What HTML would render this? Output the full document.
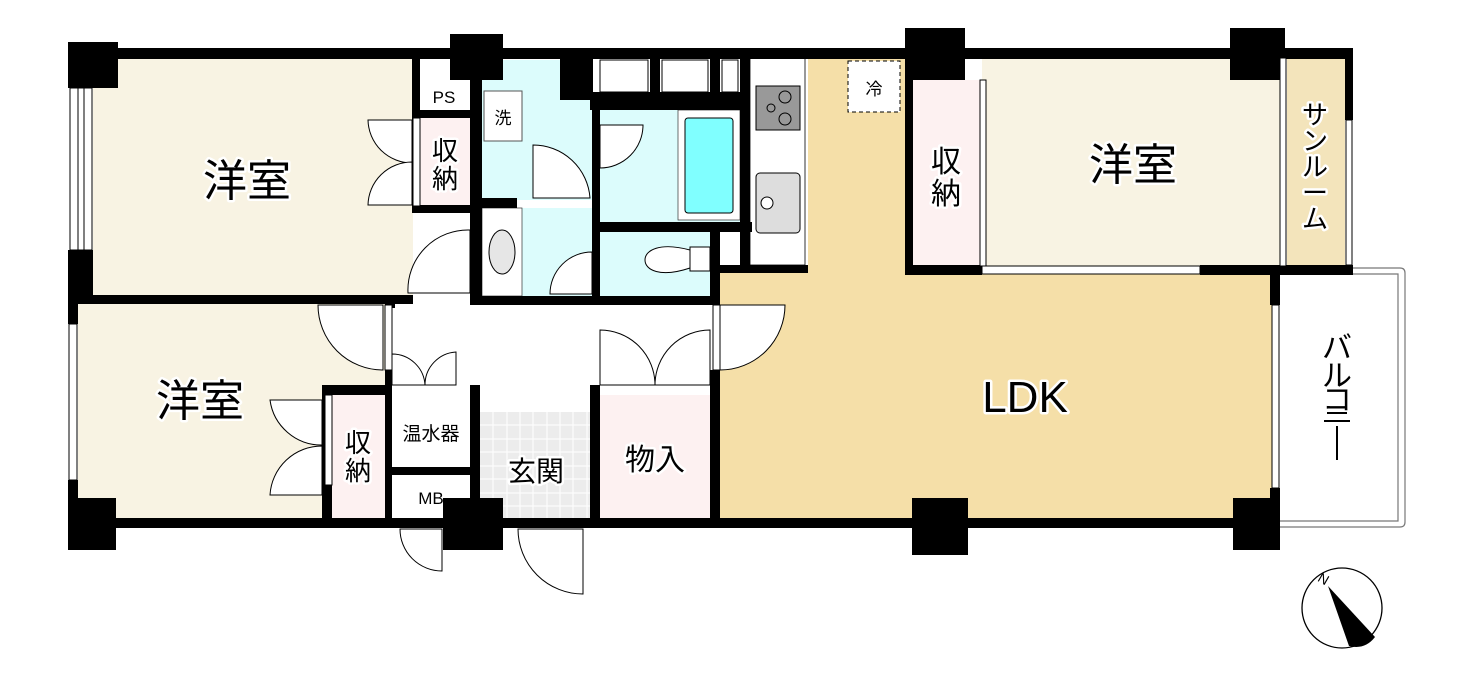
<!DOCTYPE html>
<html><head><meta charset="utf-8"><style>
html,body{margin:0;padding:0;background:#fff;}
svg{display:block;}
text{font-family:"Liberation Sans","Noto Sans CJK JP",sans-serif;fill:#000;}
</style></head><body>
<svg width="1469" height="694" viewBox="0 0 1469 694" xmlns="http://www.w3.org/2000/svg">
<rect x="93" y="58" width="320" height="238" fill="#f8f3e3"/>
<rect x="78" y="304" width="310" height="215" fill="#f8f3e3"/>
<rect x="482" y="60" width="110" height="140" fill="#dcfcfc"/>
<rect x="522" y="208" width="70" height="88" fill="#dcfcfc"/>
<rect x="482" y="208" width="40" height="88" fill="#fff" stroke="#333" stroke-width="0.7"/>
<ellipse cx="502" cy="252" rx="13" ry="22" fill="#e6e6e6" stroke="#000"/>
<rect x="600" y="110" width="145" height="112" fill="#dcfcfc"/>
<rect x="678" y="110" width="62" height="110" fill="#fff" stroke="#333" stroke-width="0.7"/>
<rect x="685" y="118" width="48" height="95" rx="3" fill="#80ffff" stroke="#000"/>
<rect x="600" y="232" width="112" height="64" fill="#dcfcfc"/>
<path d="M690 247 h20 v24 h-20 Z" fill="#fff" stroke="#000"/>
<path d="M690 250 C660 242,645 250,645 260 C645 270,660 278,690 268 Z" fill="#fff" stroke="#000"/>
<rect x="420" y="118" width="50" height="88" fill="#fdf1f1"/>
<rect x="332" y="395" width="53" height="124" fill="#fdf1f1"/>
<rect x="600" y="395" width="110" height="124" fill="#fdf1f1"/>
<rect x="912" y="80" width="68" height="186" fill="#fdf1f1"/>
<rect x="982" y="58" width="300" height="208" fill="#f8f3e3"/>
<rect x="1287" y="58" width="58" height="208" fill="#f3e4bb"/>
<rect x="808" y="58" width="100" height="215" fill="#f5dfa8"/>
<rect x="720" y="270" width="552" height="249" fill="#f5dfa8"/>
<rect x="480" y="412" width="112" height="107" fill="#ececec"/>
<g stroke="#fff" stroke-width="1">
<path d="M493 412v107M507 412v107M520 412v107M533 412v107M547 412v107M560 412v107M573 412v107M587 412v107"/>
<path d="M480 425h112M480 439h112M480 452h112M480 466h112M480 479h112M480 493h112M480 506h112"/>
</g>
<rect x="750" y="58" width="55" height="207" fill="#fff" stroke="#000" stroke-width="0.8"/>
<rect x="756" y="86" width="44" height="44" fill="#999" stroke="#000"/>
<circle cx="785" cy="97" r="6" fill="none" stroke="#000"/><circle cx="785" cy="119" r="6" fill="none" stroke="#000"/><circle cx="771" cy="108" r="4" fill="none" stroke="#000"/>
<rect x="756" y="173" width="44" height="60" rx="4" fill="#ddd" stroke="#000"/>
<circle cx="767" cy="203" r="6" fill="#fff" stroke="#000"/>
<rect x="848" y="61" width="52" height="51" fill="#fff" stroke="#000" stroke-dasharray="4,3"/>
<rect x="420" y="78" width="50" height="32" fill="#fff"/>
<rect x="484" y="91" width="38" height="50" fill="#fff" stroke="#555"/>
<rect x="392" y="395" width="78" height="72" fill="#fff"/>
<rect x="392" y="475" width="78" height="44" fill="#fff"/>
<path d="M1280 268 H1400 Q1405 268 1405 273 V522 Q1405 527 1400 527 H1280" fill="#fff" stroke="#777" stroke-width="1.2"/>
<path d="M1280 274 H1398 V521 H1280" fill="none" stroke="#777" stroke-width="1.2"/>
<g fill="#000">
<rect x="68" y="48" width="1285" height="11"/>
<rect x="68" y="42" width="50" height="46"/>
<rect x="68" y="250" width="25" height="54"/>
<rect x="68" y="295" width="345" height="9"/>
<rect x="68" y="304" width="10" height="20"/>
<rect x="68" y="480" width="10" height="40"/>
<rect x="68" y="498" width="48" height="52"/>
<rect x="68" y="518" width="1212" height="10"/>
<rect x="450" y="34" width="53" height="46"/>
<rect x="412" y="58" width="8" height="63"/>
<rect x="412" y="205" width="60" height="8"/>
<rect x="412" y="110" width="60" height="8"/>
<rect x="470" y="58" width="12" height="240"/>
<rect x="470" y="296" width="250" height="9"/>
<rect x="472" y="198" width="45" height="10"/>
<rect x="560" y="58" width="33" height="42"/>
<rect x="590" y="92" width="160" height="18"/>
<rect x="592" y="100" width="8" height="198"/>
<rect x="592" y="222" width="160" height="10"/>
<rect x="710" y="228" width="10" height="70"/>
<rect x="740" y="58" width="10" height="215"/>
<rect x="650" y="58" width="10" height="40"/><rect x="710" y="58" width="10" height="40"/>
<rect x="720" y="265" width="88" height="8"/>
<rect x="905" y="28" width="60" height="52"/>
<rect x="905" y="58" width="8" height="217"/>
<rect x="905" y="265" width="77" height="10"/>
<rect x="1200" y="265" width="153" height="10"/>
<rect x="1230" y="28" width="55" height="52"/>
<rect x="1345" y="50" width="8" height="70"/>
<rect x="1270" y="275" width="10" height="30"/>
<rect x="1270" y="488" width="10" height="40"/>
<rect x="1233" y="498" width="47" height="52"/>
<rect x="912" y="498" width="56" height="57"/>
<rect x="443" y="498" width="60" height="52"/>
<rect x="322" y="385" width="68" height="10"/>
<rect x="322" y="385" width="10" height="134"/>
<rect x="385" y="370" width="7" height="149"/>
<rect x="470" y="385" width="10" height="134"/>
<rect x="385" y="467" width="90" height="8"/>
<rect x="590" y="385" width="10" height="134"/>
<rect x="710" y="370" width="10" height="149"/>
<rect x="710" y="270" width="10" height="35"/>
<rect x="385" y="298" width="10" height="10"/>
</g>
<g fill="#fff" stroke="#000" stroke-width="1">
<rect x="70" y="88" width="22" height="162"/>
<rect x="69" y="324" width="8" height="156"/>
<rect x="982" y="266" width="218" height="8"/>
<rect x="1346" y="120" width="6" height="145"/>
<rect x="1272" y="305" width="7" height="183"/>
<rect x="1280" y="58" width="6" height="208"/>
<rect x="980" y="80" width="6" height="186"/>
<rect x="600" y="60" width="48" height="32"/><rect x="662" y="60" width="46" height="32"/><rect x="722" y="60" width="16" height="32"/>
<rect x="413" y="118" width="7" height="88"/>
<rect x="325" y="395" width="7" height="90"/>
<rect x="385" y="305" width="7" height="65"/>
<rect x="713" y="305" width="7" height="65"/>
</g>
<path d="M78 88V250M84 88V250" stroke="#000" stroke-width="1"/>
<g fill="#fff" stroke="#000" stroke-width="1">
<path d="M412 120 H368 A44 44 0 0 0 412 163 Z"/>
<path d="M412 205 H368 A44 44 0 0 1 412 162 Z"/>
<path d="M470 230 A60 60 0 0 0 408 293 H470 Z"/>
<path d="M533 145 V198 H590 A57 57 0 0 0 533 145 Z"/>
<path d="M600 125 V168 A43 43 0 0 0 643 125 Z"/>
<path d="M592 252 A42 42 0 0 0 550 294 H592 Z"/>
<path d="M318 305 A65 65 0 0 0 383 370 V305 Z"/>
<path d="M322 400 H270 A52 52 0 0 0 322 445 Z"/>
<path d="M322 495 H270 A52 52 0 0 1 322 446 Z"/>
<path d="M392 354 V385 H425 A33 33 0 0 0 392 354 Z"/>
<path d="M456 352 V385 H425 A33 33 0 0 1 456 352 Z"/>
<path d="M600 330 V385 H655 A55 55 0 0 0 600 330 Z"/>
<path d="M710 330 V385 H655 A55 55 0 0 1 710 330 Z"/>
<path d="M720 305 V370 A65 65 0 0 0 785 305 Z"/>
<path d="M400 529 A42 42 0 0 0 442 571 V529 Z"/>
<path d="M518 529 A65 65 0 0 0 583 594 V529 Z"/>
</g>
<circle cx="1342" cy="608" r="40" fill="#fff" stroke="#000" stroke-width="1.3"/>
<path d="M1328 586 L1375 637 Q1365 650 1349 646 Z" fill="#000"/>
<text x="1318" y="584" font-size="14" transform="rotate(30 1324 580)">N</text>
<g stroke="#fff" stroke-width="5" paint-order="stroke" stroke-linejoin="round">
<text x="247" y="196" font-size="44" text-anchor="middle">洋室</text>
<text x="200" y="416" font-size="44" text-anchor="middle">洋室</text>
<text x="1133" y="180" font-size="44" text-anchor="middle">洋室</text>
<text x="1025" y="412" font-size="44" text-anchor="middle">LDK</text>
<text x="445" y="160" font-size="26" text-anchor="middle">収</text>
<text x="445" y="188" font-size="26" text-anchor="middle">納</text>
<text x="358" y="452" font-size="26" text-anchor="middle">収</text>
<text x="358" y="480" font-size="26" text-anchor="middle">納</text>
<text x="946" y="172" font-size="30" text-anchor="middle">収</text>
<text x="946" y="204" font-size="30" text-anchor="middle">納</text>
<text x="536" y="481" font-size="28" text-anchor="middle">玄関</text>
<text x="655" y="470" font-size="30" text-anchor="middle">物入</text>
<text font-size="26" text-anchor="middle"><tspan x="1315" y="124">サ</tspan><tspan x="1315" y="150">ン</tspan><tspan x="1315" y="176">ル</tspan><tspan x="1315" y="202">ー</tspan><tspan x="1315" y="228">ム</tspan></text>
</g>
<text x="444" y="103" font-size="17" text-anchor="middle">PS</text>
<text x="503" y="124" font-size="17" text-anchor="middle">洗</text>
<text x="874" y="95" font-size="17" text-anchor="middle">冷</text>
<text x="431" y="440" font-size="19" text-anchor="middle">温水器</text>
<text x="431" y="504" font-size="17" text-anchor="middle">MB</text>
<text font-size="30" text-anchor="middle"><tspan x="1337" y="358">バ</tspan><tspan x="1337" y="386">ル</tspan><tspan x="1337" y="410">コ</tspan></text>
<rect x="1327" y="412" width="20" height="2" fill="#000"/>
<rect x="1324" y="420" width="26" height="2" fill="#000"/>
<rect x="1336" y="426" width="2" height="34" fill="#000"/>
</svg>
</body></html>
